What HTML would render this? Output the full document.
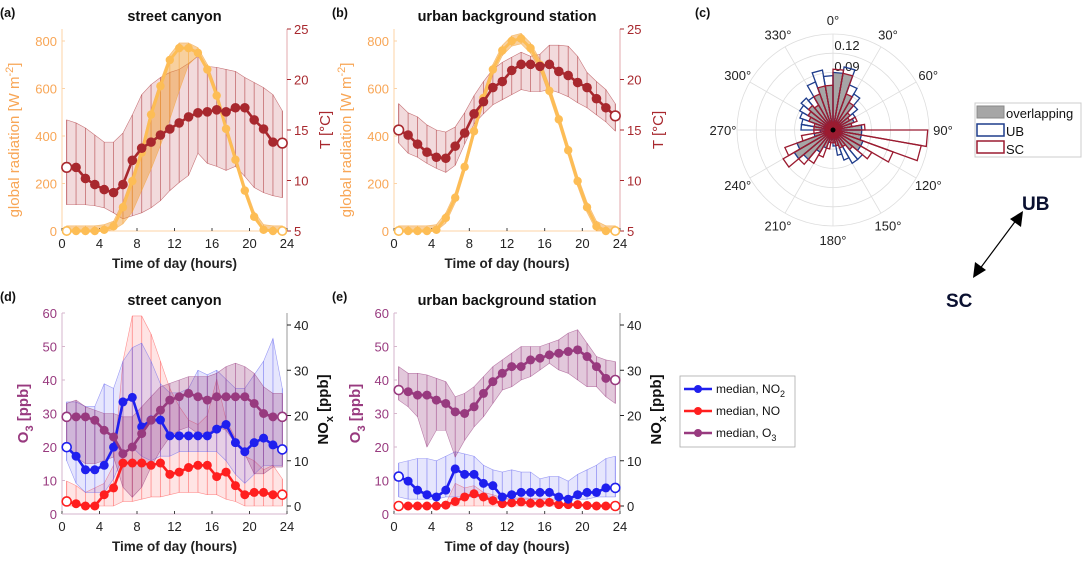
<!DOCTYPE html>
<html><head><meta charset="utf-8">
<style>
body{margin:0;background:#fff;}
svg{display:block;font-family:"Liberation Sans",Arial,sans-serif;}
</style></head>
<body>
<svg id="fig" width="1090" height="563" viewBox="0 0 1090 563"></svg>
<script>
const hours=[0.5,1.5,2.5,3.5,4.5,5.5,6.5,7.5,8.5,9.5,10.5,11.5,12.5,13.5,14.5,15.5,16.5,17.5,18.5,19.5,20.5,21.5,22.5,23.5];
const xTicks=[0,4,8,12,16,20,24];
const radTicks=[0,200,400,600,800];
const tTicks=[5,10,15,20,25];
const o3Ticks=[0,10,20,30,40,50,60];
const noxTicks=[0,10,20,30,40];
// panel a
const radA=[0,0,0,0,5,20,100,210,330,490,610,720,770,770,750,680,570,430,300,170,60,5,0,0];
const radLowA=[0,0,0,0,0,5,30,80,170,260,360,470,590,700,740,670,560,420,290,160,50,0,0,0];
const tA=[11.3,11.3,10.2,9.6,9.1,8.8,9.6,12.0,13.2,13.8,14.5,15.1,15.7,16.3,16.7,16.8,17.0,16.8,17.2,17.2,16.0,15.1,13.8,13.7];
const tHighA=[16.0,15.7,15.2,14.5,13.8,13.8,14.7,16.5,18.5,19.5,20.2,20.7,21.0,21.6,22.3,21.3,21.2,21.0,20.8,20.2,19.7,19.2,18.5,16.9];
const tLowA=[7.6,7.6,7.6,7.5,7.3,6.8,6.2,6.5,6.8,7.3,8.0,9.0,9.8,10.5,12.7,11.7,11.4,11.0,11.4,10.4,9.3,8.8,8.5,8.3];
// panel b
const radB=[0,0,0,0,5,55,140,270,420,560,680,760,800,810,770,700,590,470,340,210,100,20,0,0];
const tB=[15.0,14.5,13.6,12.8,12.3,12.2,13.4,14.7,16.6,17.8,19.2,19.8,20.9,21.5,21.5,21.3,21.5,20.8,20.4,19.7,19.2,18.1,17.2,16.4];
const tHighB=[17.6,16.7,16.3,15.5,15.0,14.8,15.3,16.7,18.4,19.8,21.0,21.7,22.2,22.7,22.3,22.5,23.4,23.4,23.3,22.3,20.7,19.8,19.0,17.6];
const tLowB=[13.7,12.7,12.3,11.7,11.2,10.8,11.5,13.6,15.6,16.6,17.5,18.0,18.5,19.0,18.8,18.8,19.0,18.7,18.3,17.7,17.2,16.5,15.8,14.9];
// panel d
const o3D=[29,29,29,28,25,23,18,20,24,28,31,34,35,36,35,34,35,35,35,35,33,30,29,29];
const o3HighD=[33,34,32,31,30,30,29,29,32,35,38,39,40,41,41,41,42,44,45,44,42,38,36,36];
const o3LowD=[20,17,15,15,16,17,8,5,8,14,19,23,25,26,24,24,26,25,21,18,12,12,14,14];
const no2D=[13,11,8,8,9,13,23,24,17.5,19,19,15.5,15.5,15.5,15.5,15.5,17,18,14,12,14,15,13.5,12.5];
const no2HighD=[23,23,22,22,27,26,32,35,36,32,27,25,25,26,30,29,30,28,26,26,29,32,37,26];
const no2LowD=[10,5,3,3,3,6,11,13,11,10,11,11,12,12,12,12,12,10,7,5,7,9,9,9];
const noD=[1,0.5,0,0,2.5,4,9.5,9.5,9.5,9,9.5,7,7.5,8.5,9,9,6.5,7.5,4.5,2.5,3,3,2.5,2.5];
const noHighD=[5.5,4.5,3,4,5,9,32,42,42,38,32,26,22,19,18,20,28,19,15,11,10,8,9,6];
const noLowD=[0,0,0,0,0,0,1,1,1.5,2,2,2.5,3,3,3,2.5,2.5,1.5,1,0,0,0,0,0];
// panel e
const o3E=[37,36.5,35.5,35.5,34,33,30.5,30,32,36,39.5,42,44,44,46,46.5,47.5,48,48.5,49,47,44,40.5,40];
const o3HighE=[44,42,42,41.5,40.5,39.5,35,36,38,41,44,46,48,50,50,50,51,52,54,55,51,47,46,45.5];
const o3LowE=[34,32,29,20,25,25,17,22,26,29,33,37,38,40,41,43,45,43,42,40,38,38,35,33];
const no2E=[6.5,5.5,3.5,2.5,2,3.5,8.2,7,7,5,4.5,2,2.5,3,3,3,3,2,1.5,2.5,3,3,4,4];
const no2HighE=[9.5,10,10.5,10.5,10,11,12,11.5,11,9,8,7.5,8,7.5,7.5,6,6.5,6.5,5.5,7,8,9,10.5,11];
const no2LowE=[2,1.5,1.5,1.5,1.5,2,2,2,2,2,2,1.5,1.5,1.5,1.5,1.5,1.5,1.5,1.5,1.5,1.5,2,2,2];
const noE=[0,0,0,0,0,0.2,1,2,2.7,2,1.2,0.5,0.7,0.9,0.6,0.6,0.8,0.3,0.3,0.3,0.1,0,0,0];
const noHighE=[0.2,0.2,0.2,0.2,0.2,0.5,5,4,4.5,3,2.5,1.8,1.7,1.8,1.7,1.6,1.6,0.8,0.5,0.5,0.3,0.3,0.3,0.3];
const noLowE=[0,0,0,0,0,0,0,0,0,0,0,0,0,0,0,0,0,0,0,0,0,0,0,0];
// wind rose (10° bins, centres 5..355)
const binCenters=[5,15,25,35,45,55,65,75,85,95,105,115,125,135,145,155,165,175,185,195,205,215,225,235,245,255,265,275,285,295,305,315,325,335,345,355];
const ubFreq=[0.09,0.10,0.075,0.065,0.05,0.04,0.035,0.03,0.045,0.045,0.045,0.05,0.05,0.06,0.06,0.05,0.04,0.025,0.015,0.02,0.03,0.04,0.06,0.07,0.06,0.03,0.02,0.05,0.05,0.055,0.06,0.065,0.06,0.08,0.095,0.085];
const scFreq=[0.095,0.09,0.06,0.05,0.035,0.03,0.04,0.03,0.05,0.148,0.14,0.10,0.07,0.04,0.03,0.03,0.025,0.02,0.02,0.03,0.045,0.06,0.07,0.09,0.08,0.05,0.03,0.03,0.03,0.04,0.045,0.05,0.045,0.06,0.07,0.07];
const ringVals=[0.03,0.06,0.09,0.12,0.15];
const angleLabels=[0,30,60,90,120,150,180,210,240,270,300,330];

const NS='http://www.w3.org/2000/svg';
const svg=document.getElementById('fig');
function mk(tag,attrs,parent,text){const e=document.createElementNS(NS,tag);for(const k in attrs)e.setAttribute(k,attrs[k]);if(text!==undefined)e.textContent=text;(parent||svg).appendChild(e);return e;}

function lin(d0,d1,r0,r1){return v=>r0+(v-d0)*(r1-r0)/(d1-d0);}

function band(g,xs,lo,hi,X,Y,fill,hatch,name){
  let d='M'+xs.map((h,i)=>X(h)+','+Y(hi[i])).join('L');
  d+='L'+xs.map((h,i)=>[X(h),Y(lo[i])]).reverse().map(p=>p.join(',')).join('L')+'Z';
  const p=mk('path',{d:d,fill:fill,stroke:hatch,'stroke-width':0.6,'stroke-opacity':0.6},g);
  
  
  xs.forEach((h,i)=>{const l=mk('line',{x1:X(h),x2:X(h),y1:Y(lo[i]),y2:Y(hi[i]),stroke:hatch,'stroke-width':0.9,'stroke-opacity':0.55},g);
    
    });
}
function series(g,xs,ys,X,Y,color,r,name,lw){
  const pl=mk('polyline',{points:xs.map((h,i)=>X(h)+','+Y(ys[i])).join(' '),fill:'none',stroke:color,'stroke-width':lw||2.5,'stroke-linejoin':'round'},g);
  
  
  xs.forEach((h,i)=>{const end=(i===0||i===xs.length-1);
    const c=mk('circle',{cx:X(h),cy:Y(ys[i]),r:r,fill:end?'#fff':color,stroke:color,'stroke-width':end?1.6:0},g);
    
    });
}

function axesFrame(g,x0,x1,yT,yB,leftTicks,LY,leftColor,rightTicks,RY,rightColor,lineL,lineR){
  mk('line',{x1:x0,x2:x1,y1:yB,y2:yB,stroke:lineL,'stroke-width':1},g);
  mk('line',{x1:x0,x2:x0,y1:yT,y2:yB,stroke:lineL,'stroke-width':1},g);
  mk('line',{x1:x1,x2:x1,y1:yT,y2:yB,stroke:lineR,'stroke-width':1},g);
  const X=lin(0,24,x0,x1);
  xTicks.forEach(t=>{mk('line',{x1:X(t),x2:X(t),y1:yB,y2:yB-3,stroke:'#444'},g);
    const tx=mk('text',{x:X(t),y:yB+17,'text-anchor':'middle','font-size':13,fill:'#222'},g,String(t));
    
    });
  leftTicks.forEach(t=>{const tx=mk('text',{x:x0-5,y:LY(t)+5,'text-anchor':'end','font-size':13,fill:leftColor},g,String(t));
    
    
    mk('line',{x1:x0,x2:x0+3,y1:LY(t),y2:LY(t),stroke:lineL},g);});
  rightTicks.forEach(t=>{const tx=mk('text',{x:x1+7,y:RY(t)+5,'font-size':13,fill:rightColor},g,String(t));
    
    
    mk('line',{x1:x1,x2:x1+4,y1:RY(t),y2:RY(t),stroke:rightColor},g);});
  const xl=mk('text',{x:(x0+x1)/2,y:yB+37,'text-anchor':'middle','font-size':13.5,'font-weight':'bold',fill:'#222'},g,'Time of day (hours)');
  
  
  return X;
}

const ORANGE='#fbb040', ORANGE_T='#f8a656', TRED='#a8282e', PURPLE='#983a7f', BLUE='#1f1fee', RED='#ff1f1f';

function tempPanel(id,x0,x1,title,letter,rad,radLow,t,tLo,tHi,showLeftTitle){
  const g=mk('g',{});
  
  
  const yT=29,yB=231;
  const LY=lin(0,850.5,yB,yT), RY=lin(5,25,yB,yT);
  const X=axesFrame(g,x0,x1,yT,yB,radTicks,LY,ORANGE_T,tTicks,RY,TRED,'#fcd3a6','#e3a9ac');
  band(g,hours,tLo,tHi,X,RY,'rgba(190,70,80,0.2)','#a8282e','temperature-band-'+id);
  const rHi=rad.map(v=>v+22), rLo=radLow?radLow:rad.map(v=>Math.max(0,v-22));
  band(g,hours,rLo,rHi,X,LY,'rgba(240,150,40,0.45)','#f5a030','radiation-band-'+id);
  series(g,hours,rad,X,LY,'#fdbd55',4.2,'radiation-median-'+id,3);
  series(g,hours,t,X,RY,TRED,4.8,'temperature-median-'+id,2.6);
  const tt=mk('text',{x:(x0+x1)/2,y:21,'text-anchor':'middle','font-size':14.5,'font-weight':'bold',fill:'#111'},g,title);
  
  
  const lt=mk('text',{x:x0-62,y:17,'font-size':12.5,'font-weight':'bold',fill:'#111'},g,letter);
  
  
  const yl=mk('text',{transform:`translate(${x0-43},${(yT+yB)/2+10}) rotate(-90)`,'text-anchor':'middle','font-size':15,fill:ORANGE_T},g);
  
  
  yl.innerHTML='global radiation [W m<tspan dy="-6" font-size="11">-2</tspan><tspan dy="6">]</tspan>';
  const yr=mk('text',{transform:`translate(${x1+43},${(yT+yB)/2}) rotate(-90)`,'text-anchor':'middle','font-size':15,fill:TRED},g,'T [°C]');
  
  
}
tempPanel('a',62,287,'street canyon','(a)',radA,radLowA,tA,tLowA,tHighA);
tempPanel('b',394,620,'urban background station','(b)',radB,null,tB,tLowB,tHighB);

function gasPanel(id,x0,x1,title,letter,o3,o3Lo,o3Hi,no2,no2Lo,no2Hi,no,noLo,noHi){
  const g=mk('g',{});
  
  
  const yT=313,yB=514;
  const LY=lin(0,60,yB,yT), RY=lin(0,40,506,325);
  const X=axesFrame(g,x0,x1,yT,yB,o3Ticks,LY,PURPLE,noxTicks,RY,'#222','#d6b6cc','#999');
  band(g,hours,noLo,noHi,X,RY,'rgba(255,90,90,0.16)','#ff5050','no-band-'+id);
  band(g,hours,no2Lo,no2Hi,X,RY,'rgba(90,90,240,0.15)','#6060ee','no2-band-'+id);
  band(g,hours,o3Lo,o3Hi,X,LY,'rgba(152,58,127,0.28)','#983a7f','o3-band-'+id);
  series(g,hours,no,X,RY,RED,4.5,'no-median-'+id,2.6);
  series(g,hours,no2,X,RY,BLUE,4.5,'no2-median-'+id,2.6);
  series(g,hours,o3,X,LY,PURPLE,4.5,'o3-median-'+id,2.6);
  const tt=mk('text',{x:(x0+x1)/2,y:305,'text-anchor':'middle','font-size':14.5,'font-weight':'bold',fill:'#111'},g,title);
  
  
  const lt=mk('text',{x:x0-62,y:301,'font-size':12.5,'font-weight':'bold',fill:'#111'},g,letter);
  
  
  const yl=mk('text',{transform:`translate(${x0-34},${(yT+yB)/2}) rotate(-90)`,'text-anchor':'middle','font-size':15,'font-weight':'bold',fill:PURPLE},g);
  
  
  yl.innerHTML='O<tspan dy="5" font-size="11">3</tspan><tspan dy="-5"> [ppb]</tspan>';
  const yr=mk('text',{transform:`translate(${x1+41},${(yT+yB)/2-4}) rotate(-90)`,'text-anchor':'middle','font-size':15,'font-weight':'bold',fill:'#111'},g);
  
  
  yr.innerHTML='NO<tspan dy="5" font-size="11">x</tspan><tspan dy="-5"> [ppb]</tspan>';
}
gasPanel('d',62,287,'street canyon','(d)',o3D,o3LowD,o3HighD,no2D,no2LowD,no2HighD,noD,noLowD,noHighD);
gasPanel('e',394,620,'urban background station','(e)',o3E,o3LowE,o3HighE,no2E,no2LowE,no2HighE,noE,noLowE,noHighE);

// gas legend
(function(){
  const g=mk('g',{});
  
  
  mk('rect',{x:680,y:376,width:115,height:71,fill:'#fff',stroke:'#aaa','stroke-width':0.8},g);
  const items=[['median, NO','2',BLUE],['median, NO','',RED],['median, O','3',PURPLE]];
  items.forEach((it,i)=>{const y=389+i*22;
    mk('line',{x1:684,x2:712,y1:y,y2:y,stroke:it[2],'stroke-width':2.5},g);
    mk('circle',{cx:698,cy:y,r:4,fill:it[2]},g);
    const t=mk('text',{x:716,y:y+4,'font-size':12,fill:'#111'},g);
    
    
    t.innerHTML=it[0]+(it[1]?'<tspan dy="4" font-size="9">'+it[1]+'</tspan>':'');});
})();

// polar wind rose
(function(){
  const g=mk('g',{});
  
  
  const cx=833,cy=130,R=96,maxV=0.15;
  const rs=v=>v/maxV*R;
  ringVals.forEach(v=>mk('circle',{cx:cx,cy:cy,r:rs(v),fill:'none',stroke:'#ddd','stroke-width':0.8},g));
  angleLabels.forEach(a=>{const rad=a*Math.PI/180;
    mk('line',{x1:cx,y1:cy,x2:cx+R*Math.sin(rad),y2:cy-R*Math.cos(rad),stroke:'#ddd','stroke-width':0.8},g);
    const t=mk('text',{x:cx+110*Math.sin(rad),y:cy-110*Math.cos(rad)+5,'text-anchor':'middle','font-size':13,fill:'#222'},g,a+'°');
    
    });
  [[0.12,50],[0.09,71]].forEach(p=>{const t=mk('text',{x:cx+14,y:p[1],'text-anchor':'middle','font-size':13,fill:'#222'},g,String(p[0]));
    
    });
  function wedge(a,v){const a0=(a-5)*Math.PI/180,a1=(a+5)*Math.PI/180,r=rs(v);
    return `M${cx},${cy}L${cx+r*Math.sin(a0)},${cy-r*Math.cos(a0)}L${cx+r*Math.sin(a1)},${cy-r*Math.cos(a1)}Z`;}
  binCenters.forEach((a,i)=>{const p=mk('path',{d:wedge(a,Math.min(ubFreq[i],scFreq[i])),fill:'#a6a6a6',stroke:'#333','stroke-width':0.5},g);
    
    });
  binCenters.forEach((a,i)=>{const p=mk('path',{d:wedge(a,ubFreq[i]),fill:'none',stroke:'#1f3d8c','stroke-width':1.3},g);
    
    });
  binCenters.forEach((a,i)=>{const p=mk('path',{d:wedge(a,scFreq[i]),fill:'none',stroke:'#9b1b30','stroke-width':1.3},g);
    
    });
  mk('circle',{cx:cx,cy:cy,r:2.5,fill:'#000'},g);
  const pl=mk('text',{x:695,y:17,'font-size':12.5,'font-weight':'bold',fill:'#111'},g,'(c)');
  
  
  // legend
  const lg=mk('g',{},g);
  
  
  mk('rect',{x:975,y:103,width:106,height:54,fill:'#fff',stroke:'#ccc'},lg);
  mk('rect',{x:977,y:106,width:27,height:12,fill:'#a6a6a6',stroke:'#888'},lg);
  mk('rect',{x:977,y:124,width:27,height:12,fill:'none',stroke:'#1f3d8c','stroke-width':1.5},lg);
  mk('rect',{x:977,y:141,width:27,height:12,fill:'none',stroke:'#9b1b30','stroke-width':1.5},lg);
  mk('text',{x:1006,y:118,'font-size':13,fill:'#111'},lg,'overlapping');
  mk('text',{x:1006,y:136,'font-size':13,fill:'#111'},lg,'UB');
  mk('text',{x:1006,y:154,'font-size':13,fill:'#111'},lg,'SC');
})();

// direction arrow
(function(){
  const g=mk('g',{});
  
  
  mk('line',{x1:1017,y1:219,x2:979,y2:270,stroke:'#000','stroke-width':1.2},g);
  mk('polygon',{points:'1023,211 1021,227 1010,219',fill:'#000'},g);
  mk('polygon',{points:'973,278 975,262 986,270',fill:'#000'},g);
  const u=mk('text',{x:1022,y:210,'font-size':19,'font-weight':'bold',fill:'#0a1030'},g,'UB');
  
  
  const s=mk('text',{x:946,y:307,'font-size':19,'font-weight':'bold',fill:'#0a1030'},g,'SC');
  
  
})();
</script>
</body></html>
